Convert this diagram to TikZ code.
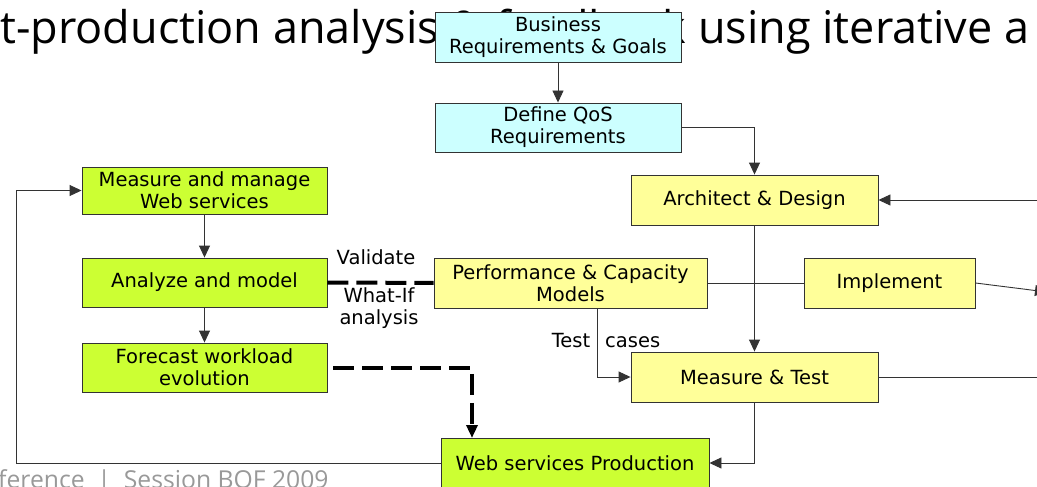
\documentclass[tikz,border=0pt]{standalone}
\usepackage{fontspec}
\setmainfont{DejaVu Sans}
\newfontfamily\headfont{Open Sans}[WordSpace=1.4]
\newfontfamily\footfont{Open Sans}
\usetikzlibrary{arrows.meta,calc,positioning}
\definecolor{reqcyan}{HTML}{CCFFFF}
\definecolor{devyellow}{HTML}{FFFF99}
\definecolor{opsgreen}{HTML}{CCFF33}
\definecolor{edgegray}{HTML}{333333}
\tikzset{reqbox/.style={
            draw=edgegray,
            fill=reqcyan,
            line width=0.9pt,
            align=center,
            inner sep=0pt,
            minimum width=246pt,
            minimum height=50pt,
            font=\fontsize{19.5}{22}\selectfont
        },
        devbox/.style={
            draw=edgegray,
            fill=devyellow,
            line width=0.9pt,
            align=center,
            inner sep=0pt,
            minimum width=247pt,
            minimum height=50pt,
            font=\fontsize{19.5}{22}\selectfont
        },
        opsbox/.style={
            draw=edgegray,
            fill=opsgreen,
            line width=0.9pt,
            align=center,
            inner sep=0pt,
            minimum width=245pt,
            minimum height=49pt,
            font=\fontsize{19.5}{22}\selectfont
        },
        flow/.style={
            draw=edgegray,
            line width=0.9pt,
            -{Triangle[length=12pt,width=11pt]}
        },
        link/.style={
            draw=edgegray,
            line width=0.9pt
        },
        feedback/.style={
            line width=4pt,
            dash pattern=on 21pt off 8pt
        },
        tag/.style={
            align=center,
            inner sep=0pt,
            font=\fontsize{19.5}{22}\selectfont
        }
    }

\begin{document}
\begin{tikzpicture}[x=1pt,y=-1pt,line join=miter]
\useasboundingbox (0,0) rectangle (1037,487);
\clip (0,0) rectangle (1037,487);
% slide title and footer, cut by the page
\node[anchor=base west,inner sep=0pt,font=\headfont\fontsize{45}{50}\selectfont] (heading) at (0,44) {t-production analysis \& feedback using iterative a};
\node[anchor=base west,inner sep=0pt,text=black!40,font=\footfont\fontsize{24.7}{28}\selectfont] (footer) at (-2,488) {ference\ \ |\ \ Session BOF 2009};

% requirements
\node[reqbox] (goals) at (558,37) {Business\\Requirements \& Goals};
\node[reqbox,minimum height=49pt] (qos) at (558,127.5) {Define QoS\\Requirements};

% development cycle
\node[devbox] (design) at (754.5,200) {Architect \& Design};
\node[devbox,minimum width=273pt] (perf) at (570.5,283) {Performance \& Capacity\\Models};
\node[devbox,minimum width=171pt] (impl) at (889.5,283) {Implement};
\node[devbox] (test) at (754.5,377) {Measure \& Test};

% operations
\node[opsbox,minimum height=47pt] (manage) at (204.5,190.5) {Measure and manage\\Web services};
\node[opsbox] (model) at (204.5,282.5) {Analyze and model};
\node[opsbox] (forecast) at (204.5,367.5) {Forecast workload\\evolution};
\node[opsbox,minimum width=268pt,minimum height=50pt] (prod) at (575,463) {Web services Production};

\coordinate (loop) at (16,463);
\coordinate (prodin) at (472,438);
\coordinate (fromright) at (1037,200);
\coordinate (toright) at (1047,292);
\coordinate (testout) at (1037,377);

\draw[flow] (goals) -- (qos);
\draw[flow] (qos.east) -| (design.north);
\draw[flow] (fromright) -- (design.east);
\draw[flow] (design) -- (test);
\draw[link] (perf) -- (impl);
\draw[flow] (impl.east) -- (toright);
\draw[flow] ([xshift=26.5pt]perf.south) |- (test.west);
\draw[link] (test.east) -- (testout);
\draw[flow] (test.south) |- (prod.east);
\draw[flow] (prod.west) -- (loop) |- (manage.west);
\draw[flow] (manage) -- (model);
\draw[flow] (model) -- (forecast);
\draw[feedback] (model) -- (perf);
\draw[feedback,-{Triangle[length=13pt,width=11pt]}] ([xshift=6pt]forecast.east) -| (prodin);

\node[tag] (validate) at (376,257) {Validate};
\node[tag] (whatif) at (379,308) {What-If\\analysis};
\node[tag] (cases) at (606,341) {Test\hspace{15pt}cases};
\end{tikzpicture}
\end{document}
